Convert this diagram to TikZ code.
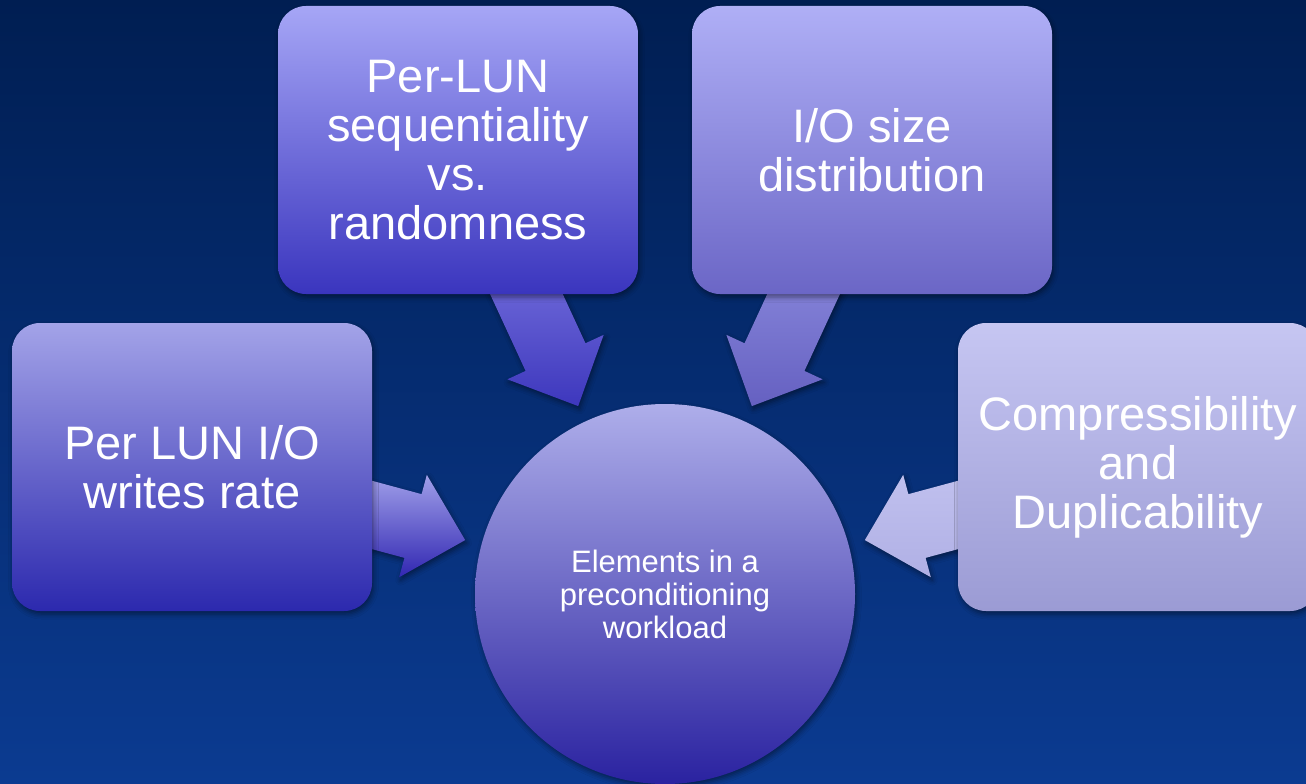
\documentclass[tikz,border=0pt]{standalone}
\usepackage{fontspec}
\setmainfont{Liberation Sans}
\usetikzlibrary{calc,shadows.blur}
\definecolor{bgtop}{HTML}{001E52}
\definecolor{bgbot}{HTML}{0B3B91}
\newcommand{\blockarr}[5]{%
  \shade[arrowshape, top color=#3, bottom color=#4]
   ($(ctr)+(#1:207)$) -- ($(ctr)+(#1:261)+(#1+90:53)$) -- ($(ctr)+(#1:261)+(#1+90:33)$)
   -- ($(ctr)+(#1:#5)+(#1+90:33)$) -- ($(ctr)+(#1:#5)+(#1-90:33)$)
   -- ($(ctr)+(#1:261)+(#1-90:33)$) -- ($(ctr)+(#1:261)+(#1-90:53)$) -- cycle;
  \coordinate (#2) at ($(ctr)+(#1:207)$);}
\tikzset{
  softshadow/.style={blur shadow={shadow xshift=1.5pt,shadow yshift=-3pt,shadow blur radius=5pt,shadow opacity=45}},
  arrowshape/.style={softshadow},
  infobox/.style={rectangle, rounded corners=28pt, minimum width=360pt, minimum height=288pt,
    inner sep=0pt, align=center, text=white, font=\fontsize{47}{49}\selectfont, softshadow},
  hub/.style={circle, minimum size=380pt, inner sep=0pt, align=center, text=white,
    font=\fontsize{31}{33}\selectfont, softshadow}
}
\begin{document}
\begin{tikzpicture}[x=1pt,y=-1pt]
\useasboundingbox (0,0) rectangle (1306,784);
\shade[top color=bgtop, bottom color=bgbot] (0,0) rectangle (1306,784);
\coordinate (ctr) at (665,594);
% block arrows (drawn below the boxes)
\blockarr{245.2}{a1}{{rgb,255:red,118;green,113;blue,221}}{{rgb,255:red,61;green,55;blue,189}}{360}
\blockarr{294.8}{a2}{{rgb,255:red,139;green,138;blue,221}}{{rgb,255:red,101;green,96;blue,193}}{360}
\blockarr{195.1}{a3}{{rgb,255:red,160;green,159;blue,233}}{{rgb,255:red,49;green,39;blue,178}}{325}
\blockarr{344.9}{a4}{{rgb,255:red,192;green,192;blue,238}}{{rgb,255:red,176;green,176;blue,229}}{325}
% boxes
\node[infobox, top color={rgb,255:red,166;green,166;blue,246}, middle color={rgb,255:red,125;green,121;blue,224}, bottom color={rgb,255:red,58;green,53;blue,190}]
  (seq) at (458,150) {Per-LUN\\sequentiality\\vs.\\randomness};
\node[infobox, top color={rgb,255:red,175;green,175;blue,246}, middle color={rgb,255:red,142;green,139;blue,224}, bottom color={rgb,255:red,107;green,102;blue,198}]
  (size) at (872,150) {I/O size\\distribution};
\node[infobox, top color={rgb,255:red,163;green,163;blue,232}, middle color={rgb,255:red,116;green,114;blue,208}, bottom color={rgb,255:red,44;green,41;blue,174}]
  (rate) at (192,467) {Per LUN I/O\\writes rate};
\node[infobox, top color={rgb,255:red,198;green,198;blue,242}, middle color={rgb,255:red,176;green,176;blue,230}, bottom color={rgb,255:red,155;green,155;blue,212}]
  (comp) at (1138,467) {Compressibility\\and\\Duplicability};
% hub circle
\node[hub, top color={rgb,255:red,174;green,174;blue,234}, middle color={rgb,255:red,126;green,123;blue,206}, bottom color={rgb,255:red,42;green,34;blue,160}]
  (circ) at (ctr) {Elements in a\\preconditioning\\workload};
\end{tikzpicture}
\end{document}
